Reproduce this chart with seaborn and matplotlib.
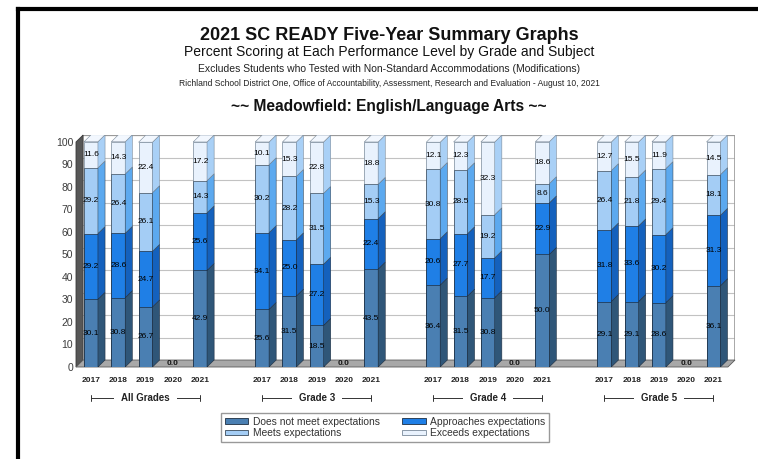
import pandas as pd
import matplotlib
matplotlib.use('Agg')
import matplotlib.pyplot as plt
from matplotlib.patches import Polygon, Patch
from matplotlib.lines import Line2D
import seaborn as sns

# Values (percent of students at each level)
years = ['2017', '2018', '2019', '2020', '2021']
groups = ['All Grades', 'Grade 3', 'Grade 4', 'Grade 5']
levels = ['Does not meet expectations', 'Approaches expectations',
          'Meets expectations', 'Exceeds expectations']

does_not_meet = [30.1, 30.8, 26.7, 0, 42.9,
                 25.6, 31.5, 18.5, 0, 43.5,
                 36.4, 31.5, 30.8, 0, 50.0,
                 29.1, 29.1, 28.6, 0, 36.1]
approaches = [29.2, 28.6, 24.7, 0, 25.6,
              34.1, 25.0, 27.2, 0, 22.4,
              20.6, 27.7, 17.7, 0, 22.9,
              31.8, 33.6, 30.2, 0, 31.3]
meets = [29.2, 26.4, 26.1, 0, 14.3,
         30.2, 28.2, 31.5, 0, 15.3,
         30.8, 28.5, 19.2, 0, 8.6,
         26.4, 21.8, 29.4, 0, 18.1]
exceeds = [11.6, 14.3, 22.4, 0, 17.2,
           10.1, 15.3, 22.8, 0, 18.8,
           12.1, 12.3, 32.3, 0, 18.6,
           12.7, 15.5, 11.9, 0, 14.5]

front_colors = ['#4a7fb2', '#1f7fe6', '#a4cdf5', '#e9f2fd']
side_colors = ['#2f5678', '#1461bd', '#5ca9ef', '#a9d0f6']
edge_colors = ['#1e2e40', '#1e2e40', '#3a4a5a', '#7a8a9a']

group_step = 6.275
bar_w = 0.51
dx, dy = 0.26, 3.1   # fake 3D depth

rows = []
for g, grp in enumerate(groups):
    for i, yr in enumerate(years):
        k = g * 5 + i
        rows.append({'pos': g * group_step + i, 'group': grp, 'year': yr,
                     'dnm': does_not_meet[k], 'app': approaches[k],
                     'meets': meets[k], 'exc': exceeds[k]})
df = pd.DataFrame(rows)
cols = ['dnm', 'app', 'meets', 'exc']
for j in range(4):
    df[f'cum{j}'] = df[cols[:j + 1]].sum(axis=1)
df['total'] = df['cum3']

sns.set_theme(style='white')
plt.rcParams['font.family'] = ['Liberation Sans', 'DejaVu Sans']

fig = plt.figure(figsize=(7.58, 4.59), dpi=100)
ax = fig.add_axes([76 / 758, (459 - 367) / 459, (735 - 76) / 758, 232 / 459])

x0 = -0.55
x1 = df['pos'].max() + 0.53
ax.set_xlim(x0, x1 + dx)
ax.set_ylim(0, 100 + dy)

# back wall grid, left wall and floor
for v in range(10, 101, 10):
    ax.plot([x0 + dx, x1 + dx], [v + dy, v + dy],
            color='#9a9a9a' if v == 100 else '#c2c2c2',
            lw=1.6 if v == 100 else 0.8, zorder=1)
ax.plot([x1 + dx, x1 + dx], [dy, 100 + dy], color='#9a9a9a', lw=1.2, zorder=1)
ax.add_patch(Polygon([(x0, 0), (x0 + dx, dy), (x0 + dx, 100 + dy), (x0, 100)],
                     closed=True, facecolor='#575757', edgecolor='#3a3a3a',
                     lw=0.6, zorder=2, clip_on=False))
ax.add_patch(Polygon([(x0, 0), (x1, 0), (x1 + dx, dy), (x0 + dx, dy)],
                     closed=True, facecolor='#a8a8a8', edgecolor='#5a5a5a',
                     lw=0.6, zorder=2, clip_on=False))

bars = df[df['total'] > 0]

# stacked front faces: draw cumulative totals from the top level down
for j in reversed(range(4)):
    sns.barplot(data=bars, x='pos', y=f'cum{j}', native_scale=True,
                width=bar_w, color=front_colors[j], saturation=1,
                edgecolor=edge_colors[j], linewidth=0.5, errorbar=None,
                ax=ax, zorder=3)

# side and top faces
for _, r in bars.iterrows():
    xl = r['pos'] - bar_w / 2
    xr = r['pos'] + bar_w / 2
    lo = 0
    for j, c in enumerate(cols):
        hi = lo + r[c]
        ax.add_patch(Polygon([(xr, lo), (xr + dx, lo + dy), (xr + dx, hi + dy), (xr, hi)],
                             closed=True, facecolor=side_colors[j],
                             edgecolor=edge_colors[j], lw=0.4, zorder=3))
        ax.text(r['pos'], (lo + hi) / 2, f'{r[c]:.1f}', ha='center', va='center',
                fontsize=6, color='#000000', zorder=5)
        lo = hi
    ax.add_patch(Polygon([(xl, lo), (xr, lo), (xr + dx, lo + dy), (xl + dx, lo + dy)],
                         closed=True, facecolor='#f2f7fe', edgecolor='#7a8a9a',
                         lw=0.4, zorder=3))

for _, r in df[df['total'] == 0].iterrows():
    ax.text(r['pos'], dy / 2, '0.0', ha='center', va='center', fontsize=6,
            fontweight='bold', color='#151515', zorder=5)

# axes text
ax.set_yticks(range(0, 101, 10))
ax.set_xticks([])
ax.set_xlabel('')
ax.set_ylabel('')
ax.tick_params(axis='y', length=0, pad=2, labelsize=7.5, labelcolor='#3c3c3c')
for s in ax.spines.values():
    s.set_visible(False)

for _, r in df.iterrows():
    ax.text(r['pos'], -6.2, r['year'], ha='center', va='center', fontsize=6,
            fontweight='bold', color='#222222', clip_on=False)

for g, grp in enumerate(groups):
    p = df.loc[df['group'] == grp, 'pos']
    a, b = p.min(), p.max()
    yb = -13.8
    ax.plot([a, b], [yb, yb], color='#333333', lw=0.7, clip_on=False)
    ax.plot([a, a], [yb - 1.3, yb + 1.3], color='#333333', lw=0.7, clip_on=False)
    ax.plot([b, b], [yb - 1.3, yb + 1.3], color='#333333', lw=0.7, clip_on=False)
    ax.text((a + b) / 2, yb, grp, ha='center', va='center', fontsize=7,
            fontweight='bold', color='#222222', clip_on=False,
            bbox=dict(facecolor='white', edgecolor='none', pad=5))

handles = [Patch(facecolor=front_colors[j], edgecolor=edge_colors[j], lw=0.6) for j in range(4)]
order = [0, 2, 1, 3]
fig.legend([handles[j] for j in order], [levels[j] for j in order], ncol=2,
           loc='center', bbox_to_anchor=(385 / 758, 1 - 427.5 / 459),
           frameon=True, fancybox=False, edgecolor='#808080', fontsize=7.4,
           handlelength=2.3, handleheight=0.45, columnspacing=2.2,
           labelspacing=0.15, borderpad=0.4, handletextpad=0.4,
           labelcolor='#333333')

# titles
cx = 389 / 758
fig.text(cx, 1 - 35 / 459, '2021 SC READY Five-Year Summary Graphs', ha='center',
         va='center', fontsize=13, fontweight='bold', color='#111111')
fig.text(cx, 1 - 52 / 459, 'Percent Scoring at Each Performance Level by Grade and Subject',
         ha='center', va='center', fontsize=10, color='#111111')
fig.text(cx, 1 - 69 / 459,
         'Excludes Students who Tested with Non-Standard Accommodations (Modifications)',
         ha='center', va='center', fontsize=7.5, color='#222222')
fig.text(cx, 1 - 83 / 459,
         'Richland School District One, Office of Accountability, Assessment, Research and Evaluation - August 10, 2021',
         ha='center', va='center', fontsize=6.15, color='#222222')
fig.text(cx, 1 - 106 / 459, '~~ Meadowfield: English/Language Arts ~~', ha='center',
         va='center', fontsize=11.2, fontweight='bold', color='#111111')

# black frame of the page
fig.add_artist(Line2D([18 / 758, 1], [1 - 9 / 459, 1 - 9 / 459], transform=fig.transFigure,
                      color='black', lw=3, solid_capstyle='projecting'))
fig.add_artist(Line2D([18 / 758, 18 / 758], [0, 1 - 9 / 459], transform=fig.transFigure,
                      color='black', lw=3, solid_capstyle='projecting'))

fig.savefig('out.png', dpi=100)
